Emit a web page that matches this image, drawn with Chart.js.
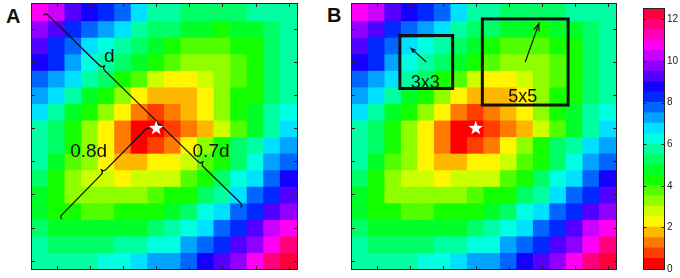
<!DOCTYPE html>
<html>
<head>
<meta charset="utf-8">
<script src="https://cdn.jsdelivr.net/npm/chart.js@4.4.0/dist/chart.umd.min.js"></script>
<style>
  html, body { margin: 0; padding: 0; background: #fff; }
  body { width: 680px; height: 278px; position: relative; overflow: hidden; font-family: "Liberation Sans", Arial, sans-serif; }
  .box { position: absolute; top: 0; height: 278px; }
  .tag { position: absolute; font-weight: bold; font-size: 20px; line-height: 20px; color: #111; }
</style>
</head>
<body>
<div class="tag" style="left:6px;top:6px">A</div>
<div class="tag" style="left:327px;top:5px">B</div>
<div class="box" style="left:22px;width:285px"><canvas id="panelA"></canvas></div>
<div class="box" style="left:342px;width:284px"><canvas id="panelB"></canvas></div>
<div class="box" style="left:634px;width:46px"><canvas id="colorbar"></canvas></div>

<script>
// ===================================
// Mapa de valores 16x16 (filas de arriba a abajo)
// ===================================

const columns = ['1','2','3','4','5','6','7','8','9','10','11','12','13','14','15','16'];

const cellValues = [
    [10.5, 10, 9, 8.5, 8, 7.5, 6.5, 5.5, 5.5, 5, 5, 5, 5, 5.5, 5.5, 5.5],
    [9.5, 9, 8, 7.5, 7, 6.5, 5.5, 5, 5, 4.5, 4.5, 4, 4.5, 4.5, 5, 5.5],
    [9, 8, 7.5, 6.5, 6, 5.5, 5, 4.5, 4, 3.5, 3.5, 3.5, 4, 4, 5, 5.5],
    [8.5, 8, 7, 6, 5.5, 5, 4.5, 4, 3.5, 3, 3, 3, 3.5, 4, 5, 5.5],
    [7.5, 7, 6.5, 5.5, 5, 4, 3.5, 2.5, 2, 2, 2.5, 3, 3.5, 4, 5, 5.5],
    [7, 6.5, 5.5, 4.5, 4, 3, 2, 1.5, 1.5, 1.5, 2, 3, 4, 4, 5, 5.5],
    [6.5, 5.5, 4.5, 4, 3, 2, 1, 0.5, 1, 1.5, 2, 3, 4, 4.5, 5.5, 6],
    [5.5, 5, 4, 3, 2, 1, 0, 0, 0.5, 1, 1.5, 2.5, 3.5, 4.5, 5.5, 6.5],
    [5.5, 5, 4, 3, 2, 1, 0, 0.5, 1, 2, 3, 4, 5, 5.5, 6.5, 7],
    [5.5, 4.5, 3.5, 3, 2, 1.5, 1.5, 2, 2, 2.5, 3.5, 4, 5, 6, 7, 7.5],
    [5, 4, 3, 2.5, 2.5, 2, 2.5, 2.5, 2.5, 3.5, 4, 5, 6, 6.5, 7.5, 8.5],
    [4.5, 4, 3, 3, 3, 3, 3, 3.5, 4, 4, 5, 5.5, 6.5, 7.5, 8, 9],
    [4.5, 4, 4, 3.5, 3.5, 4, 4, 4, 4.5, 5, 6, 6.5, 7.5, 8, 9, 9.5],
    [5, 4.5, 4.5, 4.5, 4.5, 4.5, 4.5, 5, 5.5, 6, 6.5, 7.5, 8, 9, 10, 10.5],
    [5.5, 5, 5, 5, 5, 5.5, 5.5, 6, 6, 7, 7.5, 8, 9, 9.5, 10.5, 11.5],
    [5.5, 5.5, 5.5, 5.5, 6, 6, 6.5, 7, 7, 7.5, 8.5, 9, 9.5, 10.5, 11.5, 12]
];

// Niveles de la barra de color (pasos de 0.5) y etiquetas
const colorLevels = [0, 0.5, 1, 1.5, 2, 2.5, 3, 3.5, 4, 4.5, 5, 5.5, 6, 6.5, 7, 7.5, 8, 8.5, 9, 9.5, 10, 10.5, 11, 11.5, 12];
const colorbarTicks = [0, 2, 4, 6, 8, 10, 12];
const axisTicks = [2, 4, 6, 8, 10, 12, 14, 16];

// Anotaciones en unidades de celda (1..16)
const braceA = [
    { from: [1.33, 1.04], to: [8.15, 7.7], side: -1 },
    { from: [8.15, 7.7], to: [13.22, 12.64], side: -1 },
    { from: [7.49, 7.93], to: [2.17, 13.36], side: 1 }
];
const labelsA = [
    { text: 'd', at: [5.17, 3.98] },
    { text: '0.8d', at: [3.92, 9.72] },
    { text: '0.7d', at: [11.31, 9.72] }
];
const windowsB = [
    { center: [5, 4], half: 1.6, arrowTo: [4.08, 3.18], head: 5, label: '3x3', labelAt: [4.94, 5.55] },
    { center: [11, 4], half: 2.6, arrowTo: [11.83, 1.67], head: 8, label: '5x5', labelAt: [10.85, 6.42] }
];
const starCell = [8, 8];

// Colormap tipo hsv de 25 niveles
function levelColor(v) {
    const idx = Math.max(0, Math.min(colorLevels.length - 1, Math.round(v * 2)));
    return 'hsl(' + (idx * 360 / colorLevels.length) + ',100%,50%)';
}

// Coordenadas de celda -> píxeles
function px(chart, X) { return chart.scales.x.getPixelForValue(X - 1); }
function py(chart, Y) { return chart.scales.y.getPixelForValue(Y - 0.5); }

function drawFrame(chart) {
    const ctx = chart.ctx;
    const a = chart.chartArea;
    ctx.save();
    ctx.strokeStyle = '#2a2222';
    ctx.lineWidth = 1;
    ctx.strokeRect(a.left - 0.5, a.top - 0.5, a.right - a.left + 1, a.bottom - a.top + 1);
    ctx.beginPath();
    axisTicks.forEach(t => {
        const x = Math.round(px(chart, t)) + 0.5;
        const y = Math.round(py(chart, t)) + 0.5;
        ctx.moveTo(x, a.top); ctx.lineTo(x, a.top + 3);
        ctx.moveTo(x, a.bottom); ctx.lineTo(x, a.bottom - 3);
        ctx.moveTo(a.left, y); ctx.lineTo(a.left + 3, y);
        ctx.moveTo(a.right, y); ctx.lineTo(a.right - 3, y);
    });
    ctx.stroke();
    ctx.restore();
}

function drawStar(chart) {
    const ctx = chart.ctx;
    const cx = px(chart, starCell[0]);
    const cy = py(chart, starCell[1]);
    ctx.save();
    ctx.fillStyle = '#fff';
    ctx.beginPath();
    for (let i = 0; i < 10; i++) {
        const r = i % 2 === 0 ? 7.5 : 3.1;
        const ang = -Math.PI / 2 + i * Math.PI / 5;
        const x = cx + r * Math.cos(ang);
        const y = cy + r * Math.sin(ang);
        if (i === 0) ctx.moveTo(x, y); else ctx.lineTo(x, y);
    }
    ctx.closePath();
    ctx.fill();
    ctx.restore();
}

function drawBrace(ctx, x0, y0, x1, y1, side) {
    const dx = x1 - x0, dy = y1 - y0, L = Math.hypot(dx, dy);
    const ux = dx / L, uy = dy / L, nx = -uy * side, ny = ux * side;
    const p = (s, b) => [x0 + ux * s + nx * b, y0 + uy * s + ny * b];
    const h = 3, t = 4, m = L / 2;
    ctx.beginPath();
    ctx.moveTo(...p(0, -h));
    ctx.quadraticCurveTo(...p(0, 0), ...p(h, 0));
    ctx.lineTo(...p(m - t, 0));
    ctx.quadraticCurveTo(...p(m, 0), ...p(m, t));
    ctx.quadraticCurveTo(...p(m, 0), ...p(m + t, 0));
    ctx.lineTo(...p(L - h, 0));
    ctx.quadraticCurveTo(...p(L, 0), ...p(L, -h));
    ctx.stroke();
}

const panelAPlugin = {
    id: 'panelA',
    afterDatasetsDraw(chart) {
        const ctx = chart.ctx;
        ctx.save();
        ctx.strokeStyle = '#111';
        ctx.lineWidth = 1.3;
        braceA.forEach(b => {
            drawBrace(ctx, px(chart, b.from[0]), py(chart, b.from[1]), px(chart, b.to[0]), py(chart, b.to[1]), b.side);
        });
        ctx.fillStyle = '#111';
        ctx.font = '19px "Liberation Sans", Arial, sans-serif';
        ctx.textAlign = 'center';
        ctx.textBaseline = 'alphabetic';
        labelsA.forEach(l => ctx.fillText(l.text, px(chart, l.at[0]), py(chart, l.at[1])));
        ctx.restore();
        drawStar(chart);
        drawFrame(chart);
    }
};

const panelBPlugin = {
    id: 'panelB',
    afterDatasetsDraw(chart) {
        const ctx = chart.ctx;
        ctx.save();
        windowsB.forEach(w => {
            const x0 = px(chart, w.center[0] - w.half), x1 = px(chart, w.center[0] + w.half);
            const y0 = py(chart, w.center[1] - w.half), y1 = py(chart, w.center[1] + w.half);
            ctx.strokeStyle = '#111';
            ctx.lineWidth = 3;
            ctx.strokeRect(x0, y0, x1 - x0, y1 - y0);
            // flecha de gradiente
            const sx = px(chart, w.center[0]), sy = py(chart, w.center[1]);
            const ex = px(chart, w.arrowTo[0]), ey = py(chart, w.arrowTo[1]);
            const ang = Math.atan2(ey - sy, ex - sx);
            ctx.lineWidth = 1.2;
            ctx.beginPath();
            ctx.moveTo(sx, sy); ctx.lineTo(ex, ey);
            ctx.moveTo(ex - w.head * Math.cos(ang - 0.35), ey - w.head * Math.sin(ang - 0.35));
            ctx.lineTo(ex, ey);
            ctx.lineTo(ex - w.head * Math.cos(ang + 0.35), ey - w.head * Math.sin(ang + 0.35));
            ctx.stroke();
            ctx.fillStyle = '#111';
            ctx.font = '18px "Liberation Sans", Arial, sans-serif';
            ctx.textAlign = 'center';
            ctx.textBaseline = 'alphabetic';
            ctx.fillText(w.label, px(chart, w.labelAt[0]), py(chart, w.labelAt[1]));
        });
        ctx.restore();
        drawStar(chart);
        drawFrame(chart);
    }
};

function heatmapConfig(plugin) {
    return {
        type: 'bar',
        data: {
            labels: columns,
            datasets: cellValues.map((row, r) => ({
                label: 'fila ' + (r + 1),
                data: row.map(() => 1),
                backgroundColor: row.map(levelColor),
                borderWidth: 0,
                inflateAmount: 0.6,
                barPercentage: 1,
                categoryPercentage: 1
            }))
        },
        options: {
            animation: false,
            responsive: true,
            maintainAspectRatio: false,
            events: [],
            layout: { padding: { left: 10, right: 10, top: 4, bottom: 9 } },
            plugins: { legend: { display: false }, tooltip: { enabled: false } },
            scales: {
                x: { stacked: true, display: false, offset: true },
                y: { stacked: true, display: false, min: 0, max: 16, reverse: true }
            }
        },
        plugins: [plugin]
    };
}

new Chart(document.getElementById('panelA'), heatmapConfig(panelAPlugin));
new Chart(document.getElementById('panelB'), heatmapConfig(panelBPlugin));

// Barra de color
const colorbarFrame = {
    id: 'cbarFrame',
    afterDatasetsDraw(chart) {
        const ctx = chart.ctx;
        const a = chart.chartArea;
        const ys = chart.scales.y;
        ctx.save();
        ctx.strokeStyle = '#2a2222';
        ctx.lineWidth = 1;
        ctx.strokeRect(a.left - 0.5, a.top - 0.5, a.right - a.left + 1, a.bottom - a.top + 1);
        ctx.beginPath();
        colorbarTicks.forEach(t => {
            const y = Math.round(ys.getPixelForValue(t)) + 0.5;
            ctx.moveTo(a.left, y); ctx.lineTo(a.left + 2.5, y);
            ctx.moveTo(a.right, y); ctx.lineTo(a.right - 2.5, y);
        });
        ctx.stroke();
        ctx.restore();
    }
};

new Chart(document.getElementById('colorbar'), {
    type: 'bar',
    data: {
        labels: ['nivel'],
        datasets: colorLevels.map(v => ({
            label: String(v),
            data: [0.5],
            backgroundColor: levelColor(v),
            borderWidth: 0,
            inflateAmount: 0.6,
            barPercentage: 1,
            categoryPercentage: 1
        }))
    },
    options: {
        animation: false,
        responsive: true,
        maintainAspectRatio: false,
        events: [],
        layout: { padding: { left: 10, right: 0, top: 4, bottom: 9 } },
        plugins: { legend: { display: false }, tooltip: { enabled: false } },
        scales: {
            x: { stacked: true, display: false, offset: true },
            y: {
                stacked: true,
                position: 'right',
                min: 0,
                max: 12.5,
                afterBuildTicks: s => { s.ticks = colorbarTicks.map(v => ({ value: v })); },
                afterFit: s => { s.width = 16; },
                grid: { display: false, drawTicks: false },
                border: { display: false },
                ticks: {
                    padding: 3,
                    color: '#222',
                    font: { family: '"Liberation Sans", Arial, sans-serif', size: 10 }
                }
            }
        }
    },
    plugins: [colorbarFrame]
});
</script>
</body>
</html>
